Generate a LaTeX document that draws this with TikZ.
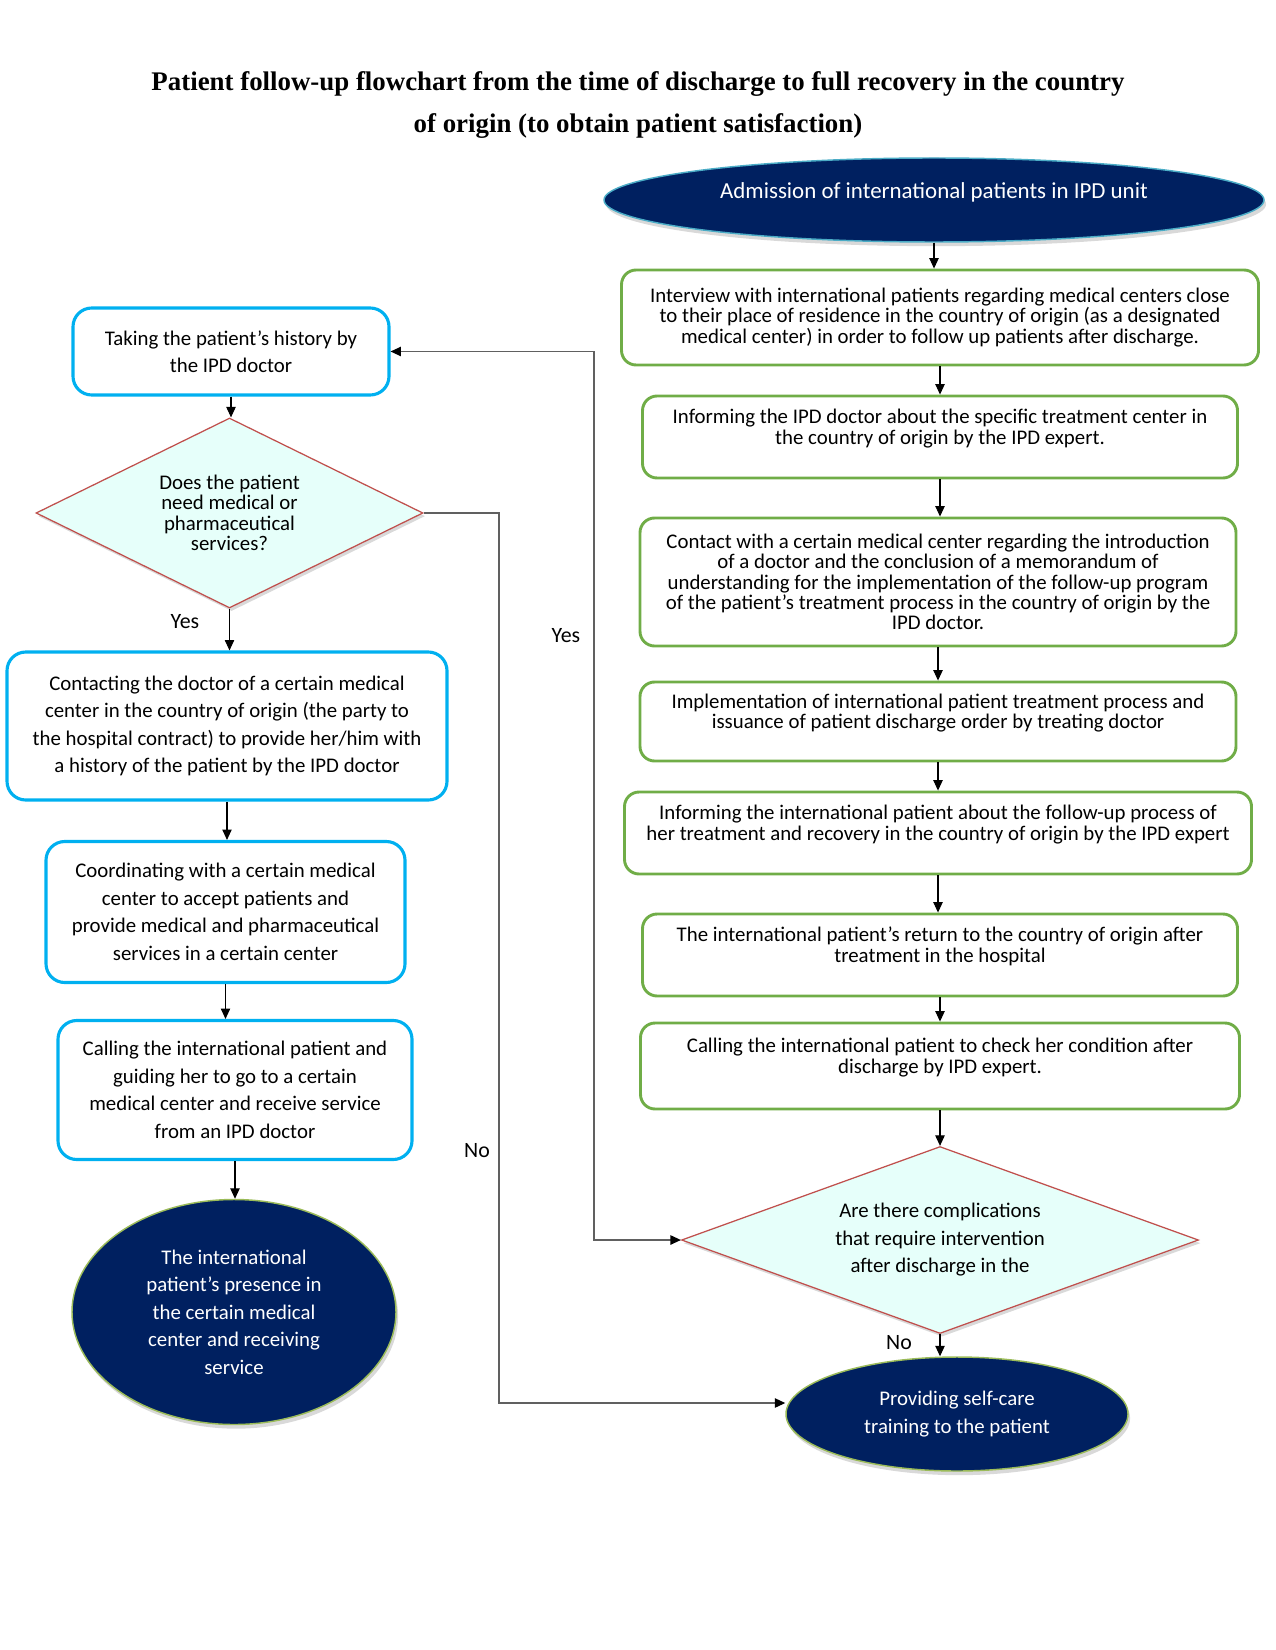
\documentclass[tikz,border=0pt]{standalone}
\usepackage{fontspec}
\setmainfont{Carlito}
\newfontfamily\titlefont{Liberation Serif}
\usetikzlibrary{positioning,shapes.geometric,arrows.meta,shadows}

\definecolor{navy}{RGB}{0,32,96}
\definecolor{boxgreen}{RGB}{112,173,71}
\definecolor{boxblue}{RGB}{0,176,240}
\definecolor{diafill}{RGB}{230,255,250}
\definecolor{diaedge}{RGB}{192,80,77}
\definecolor{rimgreen}{RGB}{155,187,89}
\definecolor{rimblue}{RGB}{75,172,198}
\definecolor{linegray}{RGB}{96,96,96}

\def\pxu{0.48pt}

\begin{document}
\begin{tikzpicture}[x=0.48pt, y=-0.48pt,
    every node/.style={font=\fontsize{10}{9.8}\selectfont, align=center, inner sep=0pt},
    greenbox/.style={rectangle, draw=boxgreen, line width=1.4pt, rounded corners=7pt},
    bluebox/.style={rectangle, draw=boxblue, line width=1.5pt, rounded corners=9pt,
        font=\fontsize{10}{13.2}\selectfont},
    decision/.style={diamond, aspect=2, draw=diaedge, line width=0.6pt, fill=diafill,
        drop shadow={opacity=0.3, shadow xshift=1pt, shadow yshift=-1.5pt}},
    terminal/.style={ellipse, draw=rimgreen, line width=0.7pt, fill=navy, text=white,
        font=\fontsize{10}{13.2}\selectfont,
        drop shadow={opacity=0.3, shadow xshift=1pt, shadow yshift=-2pt}},
    flow/.style={-{Triangle[length=5pt,width=4.5pt]}, black, line width=0.5pt},
    link/.style={linegray, line width=0.6pt}]

    \useasboundingbox (0,0) rectangle (1275,1650);

    % title
    \node[font=\titlefont\bfseries\fontsize{12.9}{20.6}\selectfont] (title) at (638,105)
        {Patient follow-up flowchart from the time of discharge to full recovery in the country\\
         of origin (to obtain patient satisfaction)};

    % right column
    \node[terminal, draw=rimblue, font=\fontsize{11}{11}\selectfont,
          minimum width=660*\pxu, minimum height=84*\pxu] (admit) at (934,200)
        {Admission of international patients in IPD unit\\[-2pt]\mbox{}};
    \node[greenbox, minimum width=637*\pxu, minimum height=95*\pxu] (interview) at (940,317.5)
        {Interview with international patients regarding medical centers close\\
         to their place of residence in the country of origin (as a designated\\
         medical center) in order to follow up patients after discharge.};
    \node[greenbox, minimum width=595*\pxu, minimum height=82*\pxu] (informdoc) at (940,437)
        {Informing the IPD doctor about the specific treatment center in\\
         the country of origin by the IPD expert.\\[0pt]\mbox{}};
    \node[greenbox, minimum width=596*\pxu, minimum height=128*\pxu] (contact) at (938,582)
        {Contact with a certain medical center regarding the introduction\\
         of a doctor and the conclusion of a memorandum of\\
         understanding for the implementation of the follow-up program\\
         of the patient’s treatment process in the country of origin by the\\
         IPD doctor.};
    \node[greenbox, minimum width=596*\pxu, minimum height=79*\pxu] (implement) at (938,721.5)
        {Implementation of international patient treatment process and\\
         issuance of patient discharge order by treating doctor\\[0pt]\mbox{}};
    \node[greenbox, minimum width=627*\pxu, minimum height=82*\pxu] (informpat) at (938,833)
        {Informing the international patient about the follow-up process of\\
         her treatment and recovery in the country of origin by the IPD expert\\[0pt]\mbox{}};
    \node[greenbox, minimum width=595*\pxu, minimum height=82*\pxu] (return) at (940,955)
        {The international patient’s return to the country of origin after\\
         treatment in the hospital\\[0pt]\mbox{}};
    \node[greenbox, minimum width=599*\pxu, minimum height=86*\pxu] (callcheck) at (940,1066)
        {Calling the international patient to check her condition after\\
         discharge by IPD expert.\\[0pt]\mbox{}};
    \node[decision, font=\fontsize{10}{13.2}\selectfont,
          minimum width=517*\pxu, minimum height=187*\pxu] (complic) at (940,1240)
        {Are there complications\\ that require intervention\\ after discharge in the};
    \node[terminal, minimum width=342*\pxu, minimum height=114*\pxu] (selfcare) at (957,1414)
        {Providing self-care\\ training to the patient};

    % left column
    \node[bluebox, minimum width=316*\pxu, minimum height=87*\pxu] (history) at (231,351.5)
        {Taking the patient’s history by\\ the IPD doctor};
    \node[decision, minimum width=387*\pxu, minimum height=190*\pxu] (needs) at (229.5,513)
        {Does the patient\\ need medical or\\ pharmaceutical\\ services?};
    \node[bluebox, minimum width=440*\pxu, minimum height=148*\pxu] (contacting) at (227,726)
        {Contacting the doctor of a certain medical\\
         center in the country of origin (the party to\\
         the hospital contract) to provide her/him with\\
         a history of the patient by the IPD doctor};
    \node[bluebox, minimum width=359*\pxu, minimum height=141*\pxu] (coord) at (225.5,912)
        {Coordinating with a certain medical\\
         center to accept patients and\\
         provide medical and pharmaceutical\\
         services in a certain center};
    \node[bluebox, minimum width=354*\pxu, minimum height=139*\pxu] (guide) at (235,1090)
        {Calling the international patient and\\
         guiding her to go to a certain\\
         medical center and receive service\\
         from an IPD doctor};
    \node[terminal, minimum width=324*\pxu, minimum height=225*\pxu] (presence) at (234,1312)
        {The international\\ patient’s presence in\\ the certain medical\\ center and receiving\\ service};

    % labels
    \node[font=\fontsize{10.5}{12}\selectfont] (yesleft) at (185,622) {Yes};
    \node[font=\fontsize{10.5}{12}\selectfont] (yesright) at (566,636) {Yes};
    \node[font=\fontsize{10.5}{12}\selectfont] (noleft) at (477,1151) {No};
    \node[font=\fontsize{10.5}{12}\selectfont] (nobottom) at (899,1343) {No};

    % vertical flow
    \draw[flow] (admit.south) -- (admit.south |- interview.north);
    \draw[flow] (interview.south) -- (interview.south |- informdoc.north);
    \draw[flow] (informdoc.south) -- (informdoc.south |- contact.north);
    \draw[flow] (contact.south) -- (contact.south |- implement.north);
    \draw[flow] (implement.south) -- (implement.south |- informpat.north);
    \draw[flow] (informpat.south) -- (informpat.south |- return.north);
    \draw[flow] (return.south) -- (return.south |- callcheck.north);
    \draw[flow] (callcheck.south) -- (callcheck.south |- complic.north);
    \draw[flow] (complic.south) -- (complic.south |- selfcare.north);

    \draw[flow] (history.south) -- (history.south |- needs.north);
    \draw[flow] (needs.south) -- (needs.south |- contacting.north);
    \draw[flow] (contacting.south) -- (contacting.south |- coord.north);
    \draw[flow] (coord.south) -- (coord.south |- guide.north);
    \draw[flow] (guide.south) -- (guide.south |- presence.north);

    % side connectors
    \coordinate (noturn) at (499,1403);
    \coordinate (yesturn) at (594,351.5);
    \draw[link, -{Triangle[length=5pt,width=4.5pt,color=black]}]
        (needs.east) -| (noturn) -- (noturn -| selfcare.west);
    \draw[link, {Triangle[length=5pt,width=4.5pt,color=black]}-{Triangle[length=5pt,width=4.5pt,color=black]}]
        (history.east) -- (yesturn) |- (complic.west);
\end{tikzpicture}
\end{document}
